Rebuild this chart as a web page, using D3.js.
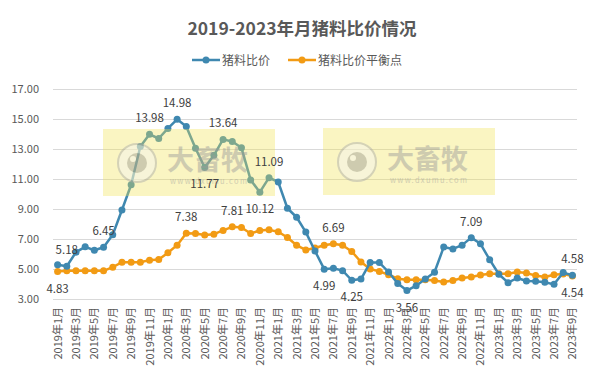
<!DOCTYPE html>
<html>
<head>
<meta charset="utf-8">
<script src="https://cdn.jsdelivr.net/npm/d3@7"></script>
<style>
  body { margin: 0; background: #fff; }
  text { font-family: "Microsoft YaHei", "Noto Sans CJK SC", sans-serif; }
</style>
</head>
<body>
<svg></svg>
<script>
const months = [
  "2019年1月","2019年2月","2019年3月","2019年4月","2019年5月","2019年6月","2019年7月","2019年8月","2019年9月","2019年10月","2019年11月","2019年12月",
  "2020年1月","2020年2月","2020年3月","2020年4月","2020年5月","2020年6月","2020年7月","2020年8月","2020年9月","2020年10月","2020年11月","2020年12月",
  "2021年1月","2021年2月","2021年3月","2021年4月","2021年5月","2021年6月","2021年7月","2021年8月","2021年9月","2021年10月","2021年11月","2021年12月",
  "2022年1月","2022年2月","2022年3月","2022年4月","2022年5月","2022年6月","2022年7月","2022年8月","2022年9月","2022年10月","2022年11月","2022年12月",
  "2023年1月","2023年2月","2023年3月","2023年4月","2023年5月","2023年6月","2023年7月","2023年8月","2023年9月"
];

// 猪料比价
const ratio = [
  5.28, 5.18, 6.12, 6.48, 6.25, 6.45, 7.28, 8.93, 10.62, 13.17, 13.98, 13.70,
  14.37, 14.98, 14.50, 13.05, 11.77, 12.58, 13.64, 13.50, 13.08, 10.94, 10.12, 11.09,
  10.80, 9.05, 8.45, 7.46, 6.20, 4.99, 5.05, 4.89, 4.25, 4.33, 5.43, 5.43,
  4.80, 4.03, 3.56, 3.89, 4.34, 4.78, 6.46, 6.34, 6.59, 7.09, 6.68, 5.62,
  4.65, 4.09, 4.40, 4.20, 4.18, 4.11, 3.98, 4.76, 4.58
];

// 猪料比价平衡点
const balance = [
  4.83, 4.88, 4.88, 4.88, 4.88, 4.88, 5.12, 5.45, 5.45, 5.45, 5.59, 5.63,
  6.08, 6.59, 7.38, 7.37, 7.26, 7.32, 7.57, 7.81, 7.77, 7.37, 7.57, 7.61,
  7.48, 7.10, 6.58, 6.27, 6.40, 6.58, 6.69, 6.58, 6.17, 5.47, 5.00, 4.84,
  4.62, 4.35, 4.29, 4.29, 4.29, 4.23, 4.14, 4.23, 4.40, 4.47, 4.60, 4.69,
  4.69, 4.69, 4.80, 4.73, 4.56, 4.47, 4.62, 4.66, 4.54
];

const yTicks = [3, 5, 7, 9, 11, 13, 15, 17];

// labelled points: index, above(1)/below(-1)
const ratioLabels = [[1,1],[5,1],[10,1],[13,1],[16,-1],[18,1],[22,-1],[23,1],[29,-1],[32,-1],[38,-1],[45,1],[56,1]];
const balanceLabels = [[0,-1],[14,1],[19,1],[30,1],[56,-1]];

const w = 600, h = 374;
const blue = "#3f88b0", orange = "#f29b14";
const axisColor = "#595959";

const svg = d3.select("svg").attr("width", w).attr("height", h);

const x = d3.scaleBand().domain(months).range([53, 577]);
const y = d3.scaleLinear().domain([3, 17]).range([299, 89]);
const cx = d => x(d) + x.bandwidth() / 2;

// title
svg.append("text")
  .attr("x", 302).attr("y", 35)
  .attr("text-anchor", "middle")
  .attr("font-size", 17.5).attr("font-weight", "bold")
  .attr("fill", axisColor)
  .text("2019-2023年月猪料比价情况");

// legend
const legend = [
  { name: "猪料比价", color: blue, x: 192 },
  { name: "猪料比价平衡点", color: orange, x: 288 }
];
legend.forEach(l => {
  svg.append("line").attr("x1", l.x).attr("x2", l.x + 28).attr("y1", 60).attr("y2", 60)
    .attr("stroke", l.color).attr("stroke-width", 2.5);
  svg.append("circle").attr("cx", l.x + 14).attr("cy", 60).attr("r", 3.5).attr("fill", l.color);
  svg.append("text").attr("x", l.x + 30).attr("y", 64.5)
    .attr("font-size", 12).attr("fill", axisColor).text(l.name);
});

// gridlines + y labels
const g = svg.append("g");
g.selectAll(".grid").data(yTicks).enter().append("line")
  .attr("x1", 53).attr("x2", 577)
  .attr("y1", d => Math.round(y(d)) + 0.5).attr("y2", d => Math.round(y(d)) + 0.5)
  .attr("stroke", "#d9d9d9");
g.selectAll(".ylab").data(yTicks).enter().append("text")
  .attr("x", 39).attr("y", d => y(d) + 4)
  .attr("text-anchor", "end").attr("font-size", 11).attr("fill", axisColor)
  .text(d => d.toFixed(2));

// x labels (every other month)
g.selectAll(".xlab").data(months.filter((d, i) => i % 2 === 0)).enter().append("text")
  .attr("transform", d => `translate(${cx(d) + 4},307) rotate(-90)`)
  .attr("text-anchor", "end").attr("font-size", 11).attr("fill", axisColor)
  .text(d => d);

function drawSeries(vals, color) {
  const line = d3.line().x((d, i) => cx(months[i])).y(d => y(d));
  svg.append("path").datum(vals)
    .attr("d", line).attr("fill", "none")
    .attr("stroke", color).attr("stroke-width", 2.5).attr("stroke-linejoin", "round");
  svg.append("g").selectAll("circle").data(vals).enter().append("circle")
    .attr("cx", (d, i) => cx(months[i])).attr("cy", d => y(d))
    .attr("r", 3.5).attr("fill", color);
}
drawSeries(balance, orange);
drawSeries(ratio, blue);

// watermarks
function watermark(x0, y0) {
  const wm = svg.append("g").attr("transform", `translate(${x0},${y0})`);
  wm.append("rect").attr("width", 172).attr("height", 67).attr("fill", "#f0e150").attr("opacity", 0.35);
  const logo = wm.append("g").attr("opacity", 0.45);
  logo.append("circle").attr("cx", 34).attr("cy", 34).attr("r", 19)
    .attr("fill", "#f4f4f4").attr("stroke", "#a8a8a8").attr("stroke-width", 2);
  logo.append("circle").attr("cx", 34).attr("cy", 34).attr("r", 10).attr("fill", "#9a9a9a");
  logo.append("circle").attr("cx", 30).attr("cy", 30).attr("r", 3).attr("fill", "#f4f4f4");
  logo.append("text").attr("x", 64).attr("y", 41).attr("font-size", 27).attr("font-weight", "bold")
    .attr("fill", "#9a9a9a").text("大畜牧");
  logo.append("text").attr("x", 67).attr("y", 55).attr("font-size", 7.5).attr("letter-spacing", 1.3)
    .attr("fill", "#9a9a9a").attr("font-family", "DejaVu Sans").text("www.dxumu.com");
}
watermark(103, 129);
watermark(323, 128);

// data labels
function drawLabels(vals, labels) {
  svg.append("g").selectAll("text").data(labels).enter().append("text")
    .attr("x", d => cx(months[d[0]]))
    .attr("y", d => y(vals[d[0]]) + (d[1] > 0 ? -12 : 21))
    .attr("text-anchor", "middle").attr("font-size", 11.5).attr("fill", "#404040")
    .text(d => vals[d[0]].toFixed(2));
}
drawLabels(ratio, ratioLabels);
drawLabels(balance, balanceLabels);
</script>
</body>
</html>
